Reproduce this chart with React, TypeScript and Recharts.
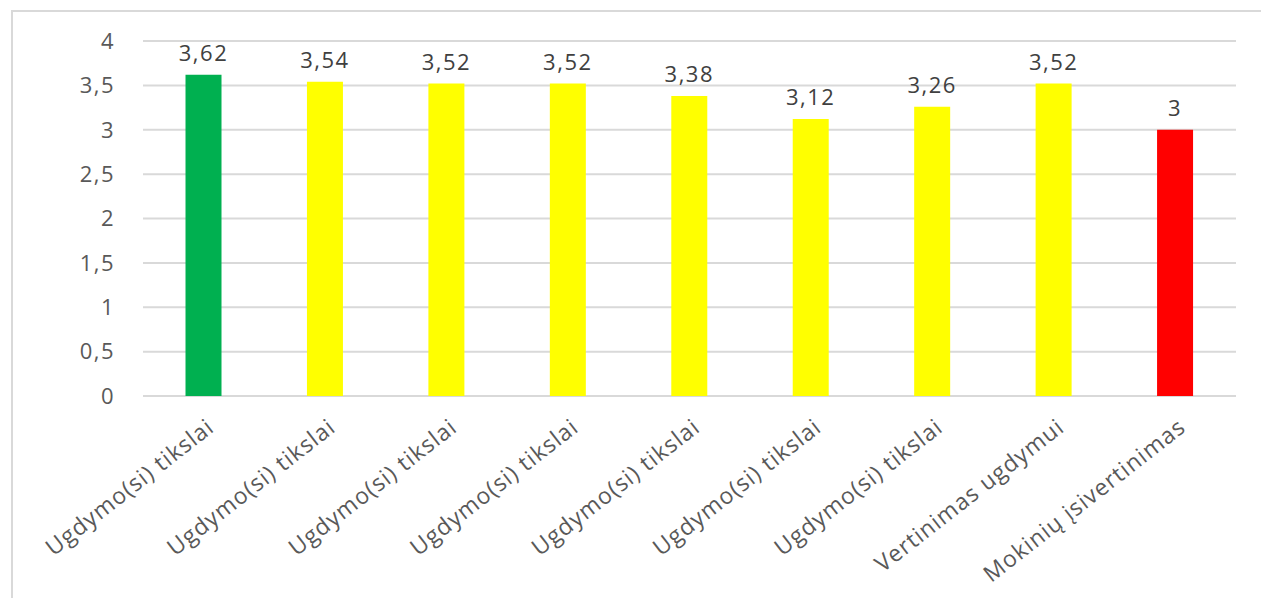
import React from 'react';
import { BarChart, Bar, XAxis, YAxis, CartesianGrid, Cell, LabelList } from 'recharts';

const categories = [
  'Ugdymo(si) tikslai',
  'Ugdymo(si) tikslai',
  'Ugdymo(si) tikslai',
  'Ugdymo(si) tikslai',
  'Ugdymo(si) tikslai',
  'Ugdymo(si) tikslai',
  'Ugdymo(si) tikslai',
  'Vertinimas ugdymui',
  'Mokinių įsivertinimas',
];
const values = [3.62, 3.54, 3.52, 3.52, 3.38, 3.12, 3.26, 3.52, 3];
const barColors = ['#00b050', '#ffff00', '#ffff00', '#ffff00', '#ffff00', '#ffff00', '#ffff00', '#ffff00', '#ff0000'];
const yTicks = [0, 0.5, 1, 1.5, 2, 2.5, 3, 3.5, 4];

const data = categories.map((name, i) => ({ key: `c${i}`, name, value: values[i] }));

const FONT = '"Open Sans", sans-serif';
const comma = (v: number) => String(v).replace('.', ',');

const XTick = (props: any) => {
  const { x, payload, index } = props;
  const ax = x + 12;
  const ay = 430;
  return (
    <text
      x={ax}
      y={ay}
      transform={`rotate(-38, ${ax}, ${ay})`}
      textAnchor="end"
      fill="#595959"
      fontSize={23}
      fontFamily={FONT}
      letterSpacing={1}
    >
      {categories[index] ?? payload.value}
    </text>
  );
};

const App: React.FC = () => {
  return (
    <div style={{ position: 'absolute', left: 0, top: 0, width: 1261, height: 598, overflow: 'hidden', background: '#fff' }}>
      <div
        style={{
          position: 'absolute',
          left: 11,
          top: 10,
          width: 1400,
          height: 800,
          border: '2px solid #d9d9d9',
          boxSizing: 'border-box',
        }}
      />
      <div style={{ position: 'absolute', left: 0, top: 0 }}>
        <BarChart
          width={1261}
          height={598}
          data={data}
          margin={{ top: 41, right: 25, bottom: 0, left: 0 }}
          barCategoryGap="35%"
        >
          <CartesianGrid vertical={false} stroke="#d9d9d9" strokeWidth={2} />
          <XAxis
            dataKey="key"
            height={202}
            axisLine={false}
            tickLine={false}
            interval={0}
            tick={<XTick />}
          />
          <YAxis
            width={143}
            domain={[0, 4]}
            ticks={yTicks}
            axisLine={false}
            tickLine={false}
            tickMargin={22}
            tickFormatter={comma}
            tick={{ fill: '#595959', fontSize: 22, fontFamily: FONT, letterSpacing: 1.5 }}
          />
          <Bar dataKey="value" isAnimationActive={false}>
            {data.map((d, i) => (
              <Cell key={d.key} fill={barColors[i]} />
            ))}
            <LabelList
              dataKey="value"
              position="top"
              offset={14}
              formatter={(v: any) => comma(Number(v))}
              style={{ fill: '#404040', fontSize: 22, fontFamily: FONT, letterSpacing: 1.5 }}
            />
          </Bar>
        </BarChart>
      </div>
    </div>
  );
};

export default App;
